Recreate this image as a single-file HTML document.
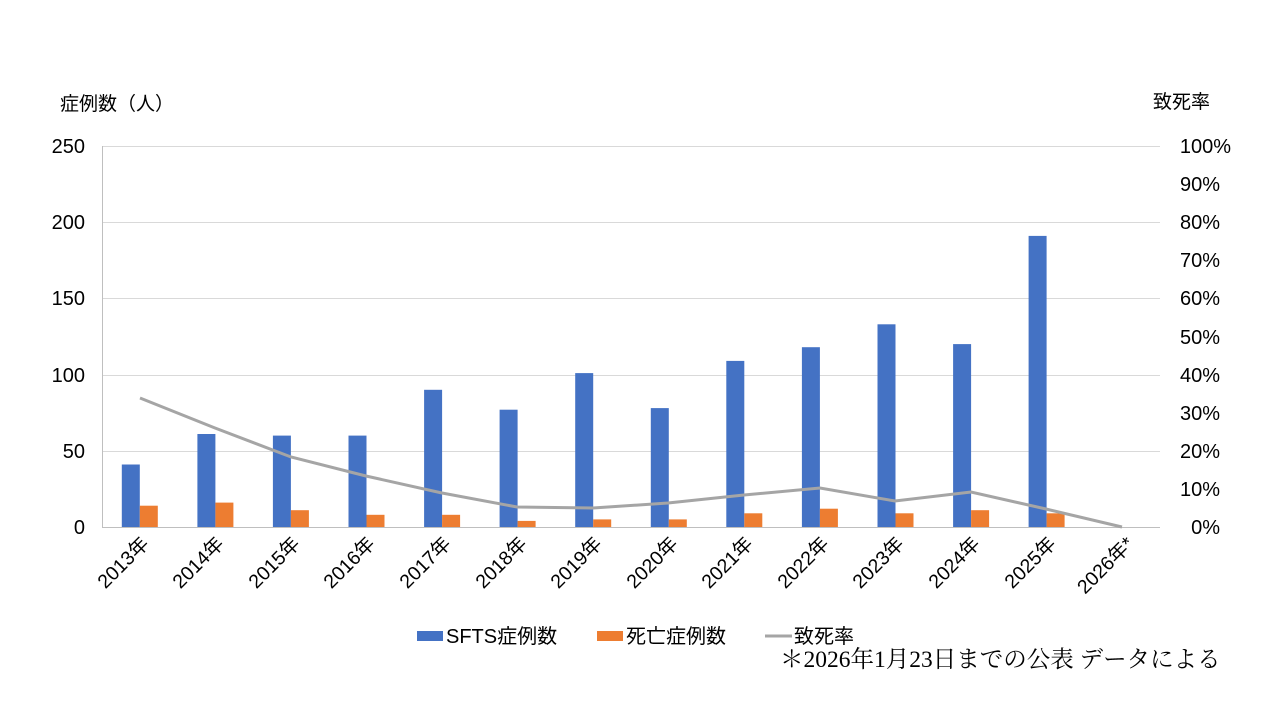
<!DOCTYPE html>
<html><head><meta charset="utf-8"><style>
body{margin:0;background:#fff}
text{font-family:"Liberation Sans","Noto Sans CJK JP",sans-serif;fill:#000}
</style></head><body>
<svg width="1280" height="720" xmlns="http://www.w3.org/2000/svg">
<g stroke="#d9d9d9" stroke-width="1">
<line x1="102" x2="1160" y1="146.5" y2="146.5"/>
<line x1="102" x2="1160" y1="222.5" y2="222.5"/>
<line x1="102" x2="1160" y1="298.5" y2="298.5"/>
<line x1="102" x2="1160" y1="375.5" y2="375.5"/>
<line x1="102" x2="1160" y1="451.5" y2="451.5"/>
</g>
<line x1="102" x2="1160" y1="527.5" y2="527.5" stroke="#bfbfbf"/>
<line x1="102.5" x2="102.5" y1="146" y2="527" stroke="#bfbfbf"/>
<g font-size="20" text-anchor="end">
<text x="85" y="153">250</text><text x="85" y="229">200</text><text x="85" y="305">150</text>
<text x="85" y="382">100</text><text x="85" y="458">50</text><text x="85" y="534">0</text>
</g>
<g font-size="20" text-anchor="end">
<text x="1231" y="153">100%</text><text x="1220" y="191">90%</text><text x="1220" y="229">80%</text>
<text x="1220" y="267">70%</text><text x="1220" y="305">60%</text><text x="1220" y="344">50%</text>
<text x="1220" y="382">40%</text><text x="1220" y="420">30%</text><text x="1220" y="458">20%</text>
<text x="1220" y="496">10%</text><text x="1220" y="534">0%</text>
</g>
<text x="60" y="110" font-size="19">症例数（人）</text>
<text x="1153" y="108" font-size="19">致死率</text>
<g fill="#4472c4">
<rect x="121.8" y="464.5" width="18" height="62.5"/>
<rect x="197.4" y="434" width="18" height="93"/>
<rect x="272.9" y="435.6" width="18" height="91.4"/>
<rect x="348.5" y="435.6" width="18" height="91.4"/>
<rect x="424.1" y="389.8" width="18" height="137.2"/>
<rect x="499.6" y="409.7" width="18" height="117.3"/>
<rect x="575.2" y="373.1" width="18" height="153.9"/>
<rect x="650.8" y="408.1" width="18" height="118.9"/>
<rect x="726.3" y="360.9" width="18" height="166.1"/>
<rect x="801.9" y="347.2" width="18" height="179.8"/>
<rect x="877.5" y="324.3" width="18" height="202.7"/>
<rect x="953.1" y="344.1" width="18" height="182.9"/>
<rect x="1028.6" y="235.9" width="18" height="291.1"/>
</g>
<g fill="#ed7d31">
<rect x="139.8" y="505.7" width="18" height="21.3"/>
<rect x="215.4" y="502.6" width="18" height="24.4"/>
<rect x="290.9" y="510.2" width="18" height="16.8"/>
<rect x="366.5" y="514.8" width="18" height="12.2"/>
<rect x="442.1" y="514.8" width="18" height="12.2"/>
<rect x="517.6" y="520.9" width="18" height="6.1"/>
<rect x="593.2" y="519.4" width="18" height="7.6"/>
<rect x="668.8" y="519.4" width="18" height="7.6"/>
<rect x="744.3" y="513.3" width="18" height="13.7"/>
<rect x="819.9" y="508.7" width="18" height="18.3"/>
<rect x="895.5" y="513.3" width="18" height="13.7"/>
<rect x="971.1" y="510.2" width="18" height="16.8"/>
<rect x="1046.6" y="513.3" width="18" height="13.7"/>
</g>
<polyline fill="none" stroke="#a5a5a5" stroke-width="3" points="140,398 215,428 291,457 366,476 442,493 517,507 593,508 668,503 744,495 820,488 895,501 971,492 1046,509 1122,527"/>
<g font-size="19.5" text-anchor="end">
<text transform="translate(150,545) rotate(-45)">2013年</text>
<text transform="translate(225,545) rotate(-45)">2014年</text>
<text transform="translate(301,545) rotate(-45)">2015年</text>
<text transform="translate(376,545) rotate(-45)">2016年</text>
<text transform="translate(452,545) rotate(-45)">2017年</text>
<text transform="translate(528,545) rotate(-45)">2018年</text>
<text transform="translate(603,545) rotate(-45)">2019年</text>
<text transform="translate(679,545) rotate(-45)">2020年</text>
<text transform="translate(754,545) rotate(-45)">2021年</text>
<text transform="translate(830,545) rotate(-45)">2022年</text>
<text transform="translate(905,545) rotate(-45)">2023年</text>
<text transform="translate(981,545) rotate(-45)">2024年</text>
<text transform="translate(1057,545) rotate(-45)">2025年</text>
<text transform="translate(1135,545) rotate(-45)">2026年*</text>
</g>
<rect x="417" y="631" width="26" height="10" fill="#4472c4"/>
<text x="446" y="643" font-size="20">SFTS症例数</text>
<rect x="597" y="631" width="26" height="10" fill="#ed7d31"/>
<text x="626" y="643" font-size="20">死亡症例数</text>
<line x1="765" x2="792" y1="636" y2="636" stroke="#a5a5a5" stroke-width="3"/>
<text x="794" y="643" font-size="20">致死率</text>
<text x="780" y="667" font-size="23.5" style="font-family:'Liberation Serif','Noto Serif CJK SC',serif">＊2026年1月23日までの公表 データによる</text>
</svg>
</body></html>
